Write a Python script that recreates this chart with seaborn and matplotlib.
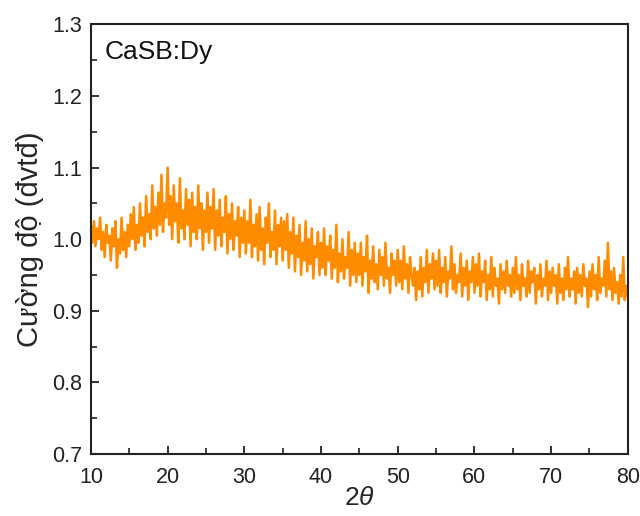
import numpy as np
import pandas as pd
import matplotlib
matplotlib.use("Agg")
import matplotlib.pyplot as plt
import seaborn as sns

# 2theta range (degrees) and sampling
theta_start, theta_end = 10.0, 80.0

# intensity values (step 0.2 deg), one list per 5 deg
seg_10_15 = [1.020, 0.995, 1.025, 0.990, 1.015, 1.000, 1.030, 0.985, 1.010, 0.975, 1.020, 0.995, 1.005, 0.970, 1.015, 0.990, 1.025, 0.960, 1.000, 0.980, 1.030, 0.985, 1.010, 0.975, 1.020]
seg_15_20 = [0.990, 1.035, 1.000, 1.045, 0.985, 1.020, 0.995, 1.050, 1.005, 1.030, 0.990, 1.060, 1.010, 1.035, 1.000, 1.075, 1.015, 1.045, 1.005, 1.065, 1.020, 1.090, 1.010, 1.050, 1.030]
seg_20_25 = [1.100, 1.020, 1.060, 1.000, 1.075, 1.025, 1.050, 0.995, 1.085, 1.015, 1.040, 1.000, 1.070, 1.020, 1.055, 0.990, 1.065, 1.010, 1.045, 1.000, 1.075, 1.015, 1.050, 0.985, 1.040]
seg_25_30 = [1.010, 1.065, 0.995, 1.045, 1.015, 1.070, 0.985, 1.040, 1.005, 1.055, 0.990, 1.030, 1.010, 1.060, 0.980, 1.035, 1.000, 1.050, 0.985, 1.025, 1.005, 1.045, 0.975, 1.030, 0.995]
seg_30_35 = [1.040, 0.980, 1.025, 0.995, 1.055, 0.975, 1.020, 0.990, 1.035, 0.970, 1.045, 0.985, 1.015, 0.965, 1.030, 0.995, 1.050, 0.975, 1.010, 0.985, 1.040, 0.965, 1.020, 0.990, 1.030]
seg_35_40 = [0.970, 1.025, 0.985, 1.035, 0.960, 1.010, 0.980, 1.030, 0.955, 1.005, 0.975, 1.020, 0.950, 0.995, 0.970, 1.025, 0.955, 1.000, 0.965, 1.015, 0.945, 0.990, 0.975, 1.010, 0.950]
seg_40_45 = [0.995, 0.960, 1.015, 0.950, 0.990, 0.970, 1.005, 0.945, 0.985, 0.960, 1.020, 0.940, 0.980, 0.955, 1.000, 0.945, 0.975, 0.960, 1.010, 0.935, 0.985, 0.950, 0.995, 0.940, 0.980]
seg_45_50 = [0.950, 0.995, 0.935, 0.975, 0.955, 1.005, 0.925, 0.970, 0.945, 0.990, 0.940, 0.965, 0.930, 0.985, 0.950, 0.975, 0.935, 0.995, 0.945, 0.960, 0.925, 0.980, 0.950, 0.970, 0.935]
seg_50_55 = [0.985, 0.940, 0.970, 0.930, 0.990, 0.945, 0.965, 0.925, 0.975, 0.950, 0.935, 0.960, 0.915, 0.955, 0.930, 0.975, 0.920, 0.960, 0.940, 0.985, 0.925, 0.965, 0.945, 0.980, 0.930]
seg_55_60 = [0.970, 0.935, 0.985, 0.925, 0.960, 0.940, 0.975, 0.920, 0.955, 0.945, 0.990, 0.930, 0.965, 0.925, 0.950, 0.940, 0.980, 0.920, 0.960, 0.935, 0.970, 0.915, 0.955, 0.940, 0.975]
seg_60_65 = [0.925, 0.965, 0.935, 0.980, 0.920, 0.955, 0.940, 0.970, 0.915, 0.950, 0.930, 0.975, 0.920, 0.960, 0.935, 0.945, 0.910, 0.965, 0.930, 0.955, 0.925, 0.970, 0.935, 0.950, 0.920]
seg_65_70 = [0.960, 0.925, 0.975, 0.930, 0.950, 0.915, 0.965, 0.935, 0.945, 0.920, 0.970, 0.925, 0.955, 0.940, 0.960, 0.910, 0.950, 0.930, 0.965, 0.920, 0.945, 0.935, 0.970, 0.915, 0.955]
seg_70_75 = [0.925, 0.960, 0.935, 0.950, 0.910, 0.965, 0.925, 0.945, 0.915, 0.960, 0.930, 0.975, 0.920, 0.945, 0.930, 0.955, 0.910, 0.960, 0.925, 0.950, 0.920, 0.965, 0.935, 0.945, 0.905]
seg_75_80 = [0.955, 0.920, 0.965, 0.930, 0.950, 0.915, 0.975, 0.925, 0.945, 0.935, 0.970, 0.920, 0.995, 0.930, 0.955, 0.915, 0.960, 0.925, 0.940, 0.910, 0.950, 0.920, 0.975, 0.915, 0.935]
end_value = [0.920]

intensity = (seg_10_15 + seg_15_20 + seg_20_25 + seg_25_30 + seg_30_35 + seg_35_40 +
             seg_40_45 + seg_45_50 + seg_50_55 + seg_55_60 + seg_60_65 + seg_65_70 +
             seg_70_75 + seg_75_80 + end_value)
two_theta = np.linspace(theta_start, theta_end, len(intensity))

df = pd.DataFrame({"two_theta": two_theta, "intensity": intensity})

sns.set_style("ticks")
plt.rcParams["font.family"] = ["Liberation Sans", "DejaVu Sans"]
plt.rcParams["mathtext.fontset"] = "custom"
plt.rcParams["mathtext.it"] = "Liberation Sans:italic"

fig = plt.figure(figsize=(6.4, 5.16), dpi=100)
ax = fig.add_axes([0.142, 0.120, 0.839, 0.833])

sns.lineplot(data=df, x="two_theta", y="intensity", ax=ax, color="#FF8C00",
             linewidth=1.8, estimator=None)

ax.set_xlim(10, 80)
ax.set_ylim(0.7, 1.3)
ax.set_xticks(np.arange(10, 81, 10))
ax.set_xticks(np.arange(15, 80, 10), minor=True)
ax.set_yticks(np.round(np.arange(0.7, 1.31, 0.1), 1))
ax.set_yticks(np.round(np.arange(0.75, 1.3, 0.1), 2), minor=True)
ax.yaxis.set_major_formatter(matplotlib.ticker.FormatStrFormatter("%.1f"))

ax.tick_params(axis="x", which="major", pad=9)
ax.tick_params(axis="y", which="major", pad=6)
ax.tick_params(axis="both", which="major", direction="in", length=6, width=1.3,
               labelsize=15.5, colors="#222222")
ax.tick_params(axis="both", which="minor", direction="in", length=4, width=1.2,
               colors="#222222")
for s in ax.spines.values():
    s.set_linewidth(1.5)
    s.set_color("#222222")
    s.set_visible(True)

ax.set_xlabel("2$\\theta$", fontsize=19, labelpad=-1)
ax.set_ylabel("Cường độ (đvtđ)", fontsize=21, labelpad=6)
ax.text(0.026, 0.935, "CaSB:Dy", transform=ax.transAxes, fontsize=19,
        va="center", ha="left", color="#111111")

fig.savefig("out.png", dpi=100)
